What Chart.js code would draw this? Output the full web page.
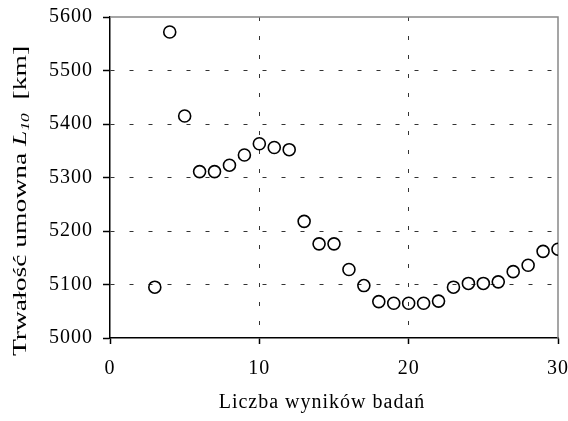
<!DOCTYPE html>
<html><head><meta charset="utf-8">
<script src="https://cdn.jsdelivr.net/npm/chart.js@4/dist/chart.umd.min.js"></script>
<style>html,body{margin:0;padding:0;background:#fff}#wrap{width:568px;height:421px}</style>
</head><body><div id="wrap"><canvas id="c" width="568" height="421"></canvas></div>
<script>
const resultCounts = [3,4,5,6,7,8,9,10,11,12,13,14,15,16,17,18,19,20,21,22,23,24,25,26,27,28,29,30];
const lifeL10 = [5095,5572,5415,5311,5311,5323,5342,5363,5356,5352,5218,5176,5176,5128,5098,5068,5065,5065,5065,5069,5095,5102,5102,5105,5124,5136,5162,5166];
const xTickValues = [0,10,20,30];
const yTickValues = [5000,5100,5200,5300,5400,5500,5600];
const xTitle = 'Liczba wyników badań';
const yTitleMain = 'Trwałość umowna ';
const yTitleVar = 'L';
const yTitleSub = '10';
const yTitleUnit = '  [km]';

const FONT = '"Liberation Serif", "Times New Roman", serif';

const frame = {
  id: 'frame',
  beforeInit(chart) { try { chart.ctx.letterSpacing = '1px'; } catch (e) {} },
  beforeDraw(chart) { try { chart.ctx.letterSpacing = '1px'; } catch (e) {} },
  beforeDatasetsDraw(chart) {
    const {ctx, chartArea: a} = chart;
    ctx.save();
    ctx.strokeStyle = '#888';
    ctx.lineWidth = 1.5;
    ctx.beginPath();
    ctx.moveTo(a.left, a.top);
    ctx.lineTo(a.right, a.top);
    ctx.lineTo(a.right, a.bottom);
    ctx.stroke();
    ctx.restore();
  },
  afterDraw(chart) {
    const {ctx} = chart;
    ctx.save();
    try { ctx.letterSpacing = '0px'; } catch (e) {}
    ctx.translate(21, 201);
    ctx.rotate(-Math.PI / 2);
    ctx.scale(1.45, 1);
    ctx.fillStyle = '#000';
    ctx.textBaseline = 'middle';
    const f = 19;
    ctx.font = f + 'px ' + FONT;
    const fi = 'italic ' + f + 'px ' + FONT;
    const fs = 'italic ' + Math.round(f * 0.65) + 'px ' + FONT;
    const w1 = ctx.measureText(yTitleMain).width;
    ctx.font = fi; const w2 = ctx.measureText(yTitleVar).width;
    ctx.font = fs; const w3 = ctx.measureText(yTitleSub).width;
    ctx.font = f + 'px ' + FONT; const w4 = ctx.measureText(yTitleUnit).width;
    let x = -(w1 + w2 + w3 + w4) / 2;
    ctx.font = f + 'px ' + FONT; ctx.fillText(yTitleMain, x, 0); x += w1;
    ctx.font = fi; ctx.fillText(yTitleVar, x, 0); x += w2;
    ctx.font = fs; ctx.fillText(yTitleSub, x, 5); x += w3;
    ctx.font = f + 'px ' + FONT; ctx.fillText(yTitleUnit, x, 0);
    ctx.restore();
  }
};

const data = resultCounts.map((x, i) => ({x, y: lifeL10[i]}));

new Chart(document.getElementById('c'), {
  type: 'scatter',
  data: { datasets: [{
    data,
    pointStyle: 'circle',
    pointRadius: 6,
    pointHoverRadius: 6,
    borderColor: '#000',
    backgroundColor: 'rgba(255,255,255,0)',
    borderWidth: 1.6
  }]},
  options: {
    responsive: false,
    animation: false,
    devicePixelRatio: 1,
    layout: { padding: { top: 17, right: 10, left: 0, bottom: 0 } },
    plugins: { legend: { display: false }, tooltip: { enabled: false } },
    scales: {
      x: {
        type: 'linear', min: 0, max: 30,
        afterFit(s) { s.height = 83; s.paddingLeft = 0; s.paddingRight = 0; },
        afterBuildTicks(s) { s.ticks = xTickValues.map(v => ({value: v})); },
        ticks: { color: '#000', font: { family: FONT, size: 20 }, padding: 13, maxRotation: 0, callback: v => String(v) },
        grid: {
          color: c => (c.tick && (c.tick.value === 0 || c.tick.value === 30)) ? 'rgba(0,0,0,0)' : '#333',
          lineWidth: 1, tickLength: 6, tickColor: '#000', tickWidth: 1.5
        },
        border: { display: true, color: '#000', width: 1.5, dash: [4, 15] },
        title: { display: true, text: xTitle + '    ', color: '#000', font: { family: FONT, size: 20 }, padding: { top: 0, bottom: 6 } }
      },
      y: {
        type: 'linear', min: 5000, max: 5600,
        afterFit(s) { s.width = 110; s.paddingTop = 0; s.paddingBottom = 0; },
        afterBuildTicks(s) { s.ticks = yTickValues.map(v => ({value: v})); },
        ticks: { color: '#000', font: { family: FONT, size: 20 }, padding: 10, callback: v => String(v) },
        grid: {
          color: c => (c.tick && (c.tick.value === 5000 || c.tick.value === 5600)) ? 'rgba(0,0,0,0)' : '#333',
          lineWidth: 1, tickLength: 7, tickColor: '#000', tickWidth: 1.5
        },
        border: { display: true, color: '#000', width: 1.5, dash: [4, 15] }
      }
    }
  },
  plugins: [frame]
});
</script></body></html>
